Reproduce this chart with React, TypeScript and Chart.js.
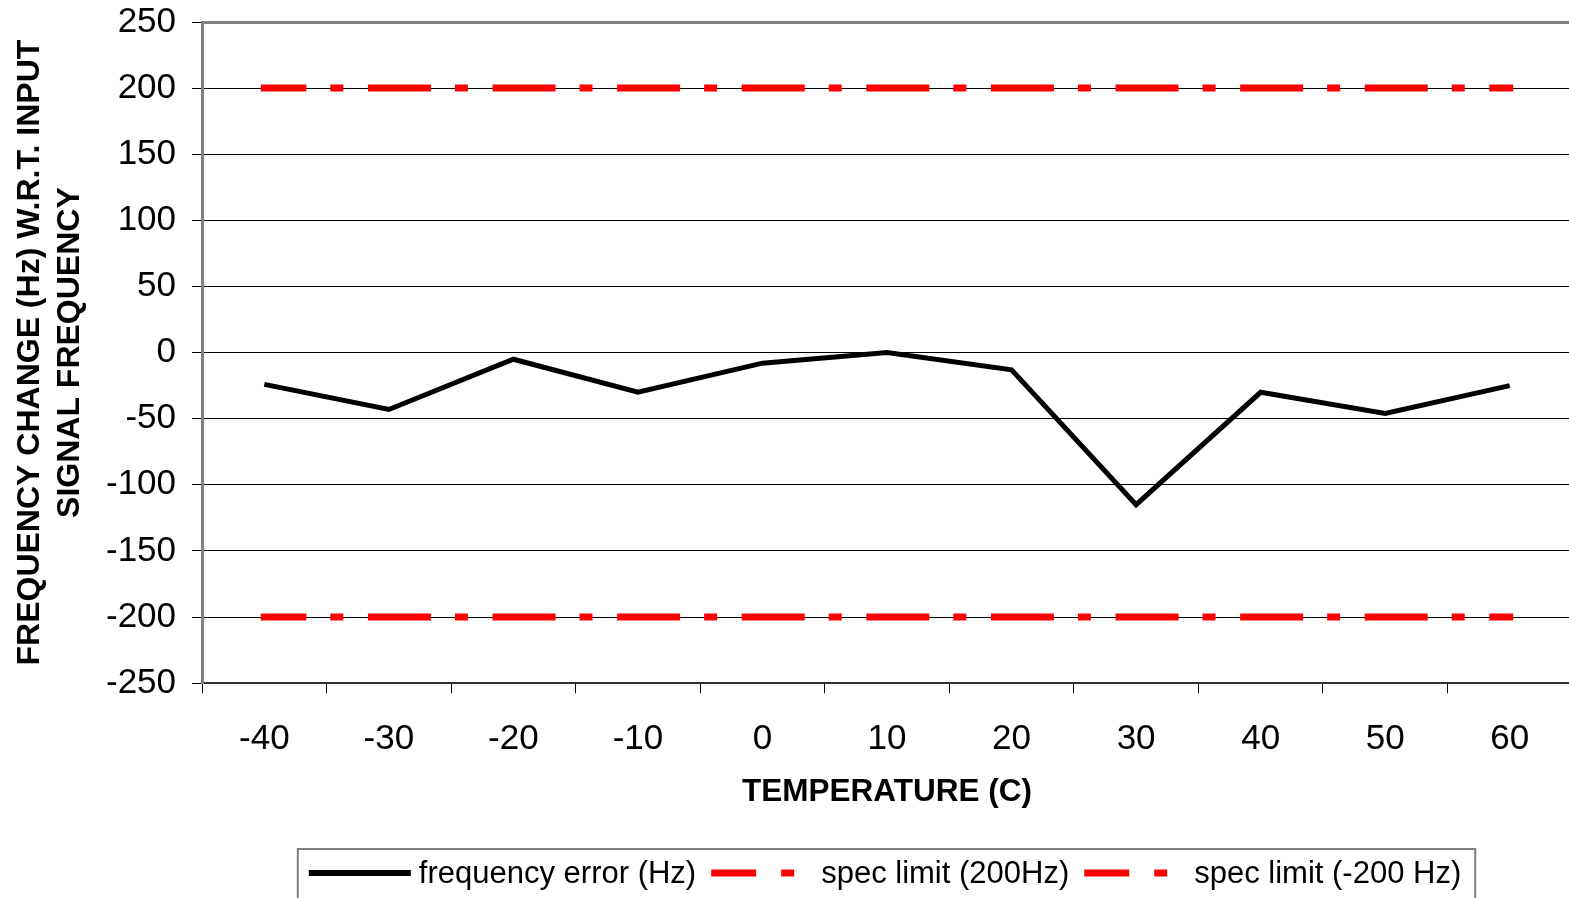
import { useEffect, useRef } from 'react';
import { Chart, registerables } from 'chart.js';

Chart.register(...registerables);

const temperatures = ['-40', '-30', '-20', '-10', '0', '10', '20', '30', '40', '50', '60'];
const frequencyError = [-24, -43, -5, -30, -8, 0, -13, -115, -30, -46, -25];
const specLimitHigh = [200, 200, 200, 200, 200, 200, 200, 200, 200, 200, 200];
const specLimitLow = [-200, -200, -200, -200, -200, -200, -200, -200, -200, -200, -200];
const yTickValues = [-250, -200, -150, -100, -50, 0, 50, 100, 150, 200, 250];
const seriesLabels = ['frequency error (Hz)', 'spec limit (200Hz)', 'spec limit (-200 Hz)'];
const xTitle = 'TEMPERATURE (C)';
const yTitle = ['FREQUENCY CHANGE (Hz) W.R.T. INPUT', 'SIGNAL FREQUENCY'];

const FAMILY = "'Liberation Sans', Arial, Helvetica, sans-serif";
const legendDashes: number[][] = [[], [45, 25, 13, 25], [45, 25, 13, 25]];
const legendWidths = [6, 7, 7];

const boxLegend = {
  id: 'boxLegend',
  afterDraw(chart: any) {
    const ctx = chart.ctx as CanvasRenderingContext2D;
    const ds = chart.data.datasets;
    ctx.save();
    ctx.font = `31px ${FAMILY}`;
    const sampleW = 102;
    const textGap = 8;
    const itemGap = 15;
    const widths = ds.map((d: any) => ctx.measureText(d.label).width);
    const total =
      widths.reduce((a: number, b: number) => a + b, 0) +
      ds.length * (sampleW + textGap) +
      (ds.length - 1) * itemGap;
    const ca = chart.chartArea;
    const cx = (ca.left + ca.right) / 2 - 2;
    let x = cx - total / 2;
    const y = chart.height - 25;
    ctx.strokeStyle = '#808080';
    ctx.lineWidth = 2;
    ctx.strokeRect(x - 11, chart.height - 49, total + 25, 80);
    ds.forEach((d: any, i: number) => {
      ctx.beginPath();
      ctx.strokeStyle = d.borderColor;
      ctx.lineWidth = legendWidths[i];
      ctx.setLineDash(legendDashes[i]);
      ctx.lineCap = 'butt';
      ctx.moveTo(x, y);
      ctx.lineTo(x + sampleW, y);
      ctx.stroke();
      ctx.setLineDash([]);
      ctx.fillStyle = '#000';
      ctx.textBaseline = 'middle';
      ctx.textAlign = 'left';
      ctx.fillText(d.label, x + sampleW + textGap, y + 1);
      x += sampleW + textGap + widths[i] + itemGap;
    });
    ctx.restore();
  },
};

export default function App() {
  const canvasRef = useRef<HTMLCanvasElement | null>(null);

  useEffect(() => {
    if (!canvasRef.current) return;
    Chart.defaults.font.family = FAMILY;
    Chart.defaults.color = '#000';
    const chart = new Chart(canvasRef.current, {
      type: 'line',
      data: {
        labels: temperatures,
        datasets: [
          {
            label: seriesLabels[0],
            data: frequencyError,
            borderColor: '#000000',
            backgroundColor: '#000000',
            borderWidth: 5,
            pointRadius: 0,
            tension: 0,
            borderJoinStyle: 'miter',
          },
          {
            label: seriesLabels[1],
            data: specLimitHigh,
            borderColor: '#FF0000',
            backgroundColor: '#FF0000',
            borderWidth: 7,
            borderDash: [56, 31, 6, 31.6],
            borderDashOffset: 17.5,
            borderCapStyle: 'square',
            pointRadius: 0,
          },
          {
            label: seriesLabels[2],
            data: specLimitLow,
            borderColor: '#FF0000',
            backgroundColor: '#FF0000',
            borderWidth: 7,
            borderDash: [56, 31, 6, 31.6],
            borderDashOffset: 17.5,
            borderCapStyle: 'square',
            pointRadius: 0,
          },
        ],
      },
      options: {
        animation: false,
        responsive: true,
        maintainAspectRatio: false,
        layout: { padding: { left: 0, right: 8, top: 22, bottom: 87 } },
        plugins: {
          legend: { display: false },
          tooltip: { enabled: false },
        },
        scales: {
          x: {
            type: 'category',
            offset: true,
            grid: {
              offset: true,
              drawOnChartArea: false,
              drawTicks: true,
              tickLength: 10,
              color: '#000',
              lineWidth: 1,
            },
            border: { color: '#333', width: 2 },
            ticks: {
              font: { size: 35, family: FAMILY, lineHeight: 1.2 },
              color: '#000',
              padding: 25,
              maxRotation: 0,
              autoSkip: false,
            },
            title: {
              display: true,
              text: xTitle,
              color: '#000',
              font: { size: 31.5, weight: 'bold', family: FAMILY, lineHeight: 1.2 },
              padding: { top: -12, bottom: 0 },
            },
          },
          y: {
            min: -250,
            max: 250,
            afterBuildTicks: (scale: any) => {
              scale.ticks = yTickValues.map((v) => ({ value: v }));
            },
            afterFit: (scale: any) => {
              scale.paddingTop = 0;
              scale.paddingBottom = 0;
            },
            ticks: {
              stepSize: 50,
              font: { size: 35, family: FAMILY, lineHeight: 1.2 },
              color: '#000',
              padding: 16,
            },
            grid: {
              color: (c: any) => (c.tick && c.tick.value === 250 ? '#808080' : '#000'),
              lineWidth: (c: any) => (c.tick && c.tick.value === 250 ? 3 : 1),
              tickLength: 10,
              tickColor: '#000',
              tickWidth: 1,
            },
            border: { color: '#808080', width: 3 },
            title: {
              display: true,
              text: yTitle,
              color: '#000',
              font: { size: 32, weight: 'bold', family: FAMILY, lineHeight: 1.25 },
              padding: { top: 10, bottom: 0 },
            },
          },
        },
      },
      plugins: [boxLegend],
    } as any);
    return () => chart.destroy();
  }, []);

  return (
    <div
      style={{
        position: 'fixed',
        left: 0,
        top: 0,
        width: '1569px',
        height: '898px',
        overflow: 'hidden',
        background: '#fff',
      }}
    >
      <div style={{ position: 'relative', width: '1580px', height: '898px' }}>
        <canvas ref={canvasRef} />
      </div>
    </div>
  );
}
